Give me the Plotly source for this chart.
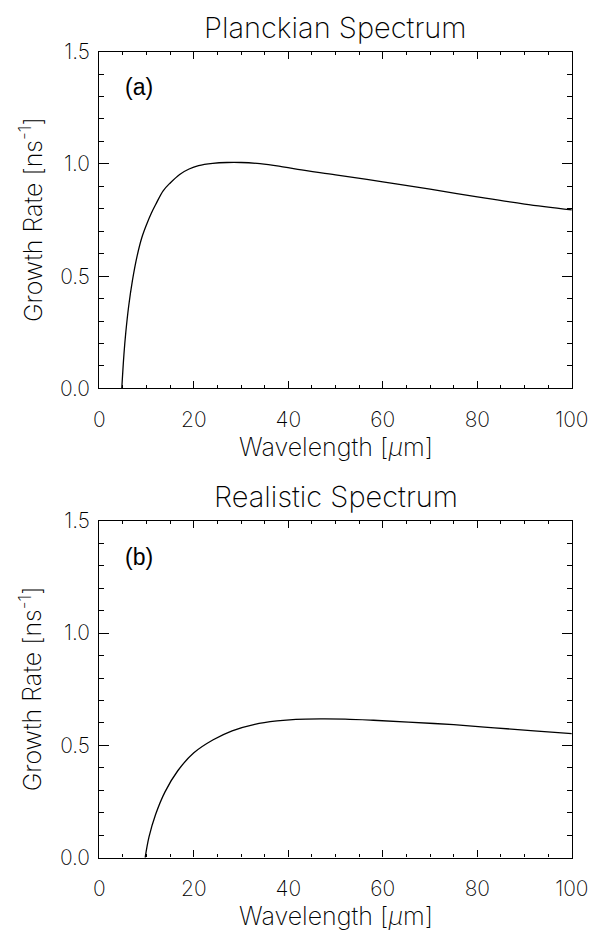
import plotly.graph_objects as go

# Growth rate vs wavelength, Planckian spectrum
wl_planck = [4.75, 5.2, 5.6, 6.2, 7.0, 8.0, 9.0, 10.0, 11.0, 12.0, 13.5, 15.0,
             17.0, 19.0, 21.0, 24.0, 27.0, 30.0, 34.0, 38.0, 42.0, 50.0, 60.0,
             70.0, 80.0, 90.0, 100.0]
gr_planck = [0.0, 0.15, 0.25, 0.365, 0.48, 0.59, 0.672, 0.73, 0.78, 0.822,
             0.88, 0.915, 0.953, 0.977, 0.992, 1.002, 1.006, 1.006, 1.001,
             0.99, 0.975, 0.951, 0.92, 0.887, 0.853, 0.821, 0.795]

# Growth rate vs wavelength, realistic spectrum
wl_real = [9.7, 10.5, 11.9, 13.9, 16.6, 20.0, 24.1, 28.1, 32.9, 37.6, 41.6,
           47.0, 52.0, 58.0, 65.4, 75.0, 83.6, 92.0, 100.0]
gr_real = [0.0, 0.091, 0.192, 0.293, 0.387, 0.467, 0.525, 0.565, 0.594, 0.609,
           0.616, 0.618, 0.617, 0.612, 0.604, 0.592, 0.578, 0.565, 0.552]

panel_titles = ["Planckian Spectrum", "Realistic Spectrum"]
panel_tags = ["(a)", "(b)"]
x_title = "Wavelength [<i>μ</i>m]"
y_title = "Growth Rate [ns<sup>-1</sup>]"

W, H = 610, 941
x_dom = [97 / W, 588 / W]
panel_px = [(39.6, 385.7), (521.7, 867.7)]   # (top, bottom) in pixels
y_doms = [[1 - b / H, 1 - t / H] for t, b in panel_px]

THIN = dict(family="Inter", color="black", weight=250)
TICK_FONT = dict(THIN, size=21)
TITLE_FONT = dict(THIN, size=29)
LABEL_FONT = dict(THIN, size=25)

fig = go.Figure()
series = [(wl_planck, gr_planck), (wl_real, gr_real)]
for i, (xs, ys) in enumerate(series):
    sfx = "" if i == 0 else str(i + 1)
    fig.add_trace(go.Scatter(
        x=xs, y=ys, mode="lines",
        line=dict(color="black", width=1.3, shape="spline", smoothing=1.0),
        xaxis="x" + sfx, yaxis="y" + sfx, showlegend=False,
    ))

axis_common = dict(
    showgrid=False, zeroline=False, showline=True, linecolor="black",
    linewidth=1.3, mirror="allticks", ticks="inside", tickcolor="black",
    tickwidth=1, tickfont=TICK_FONT,
)

layout = dict(
    width=W, height=H, margin=dict(l=0, r=0, t=0, b=0),
    paper_bgcolor="white", plot_bgcolor="white", showlegend=False,
)
annotations = []
for i in range(2):
    sfx = "" if i == 0 else str(i + 1)
    top_px, bot_px = panel_px[i]
    layout["xaxis" + sfx] = dict(
        axis_common, domain=x_dom, range=[0, 100], dtick=20, ticklen=7,
        anchor="y" + sfx, ticklabelstandoff=12,
        minor=dict(dtick=5, ticks="inside", ticklen=3.5, tickcolor="black"),
    )
    layout["yaxis" + sfx] = dict(
        axis_common, domain=y_doms[i], range=[0, 1.5], dtick=0.5, ticklen=9.8,
        tickformat=".1f", anchor="x" + sfx, ticklabelstandoff=4,
        minor=dict(dtick=0.1, ticks="inside", ticklen=5, tickcolor="black"),
    )
    annotations.append(dict(
        text=panel_titles[i], xref="paper", yref="paper",
        x=(x_dom[0] + x_dom[1]) / 2, y=1 - (top_px - 25) / H,
        xanchor="center", yanchor="middle", showarrow=False, font=TITLE_FONT,
    ))
    annotations.append(dict(
        text=x_title, xref="paper", yref="paper",
        x=(x_dom[0] + x_dom[1]) / 2, y=1 - (bot_px + 60) / H,
        xanchor="center", yanchor="middle", showarrow=False, font=LABEL_FONT,
    ))
    annotations.append(dict(
        text=y_title, xref="paper", yref="paper", textangle=-90,
        x=26 / W, y=1 - (top_px + bot_px) / 2 / H,
        xanchor="center", yanchor="middle", showarrow=False, font=LABEL_FONT,
    ))
    annotations.append(dict(
        text=panel_tags[i], xref="x" + sfx, yref="y" + sfx, x=5, y=1.34,
        xanchor="left", yanchor="middle", showarrow=False,
        font=dict(family="Liberation Sans", size=23, color="black"),
    ))
layout["annotations"] = annotations
fig.update_layout(**layout)

fig.write_html("out.html")
